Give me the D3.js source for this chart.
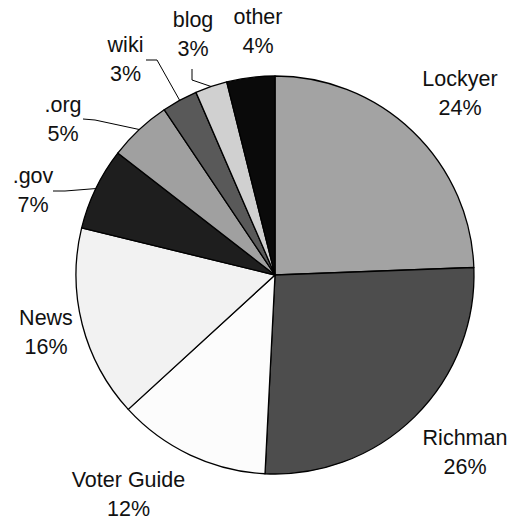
<!DOCTYPE html>
<html>
<head>
<meta charset="utf-8">
<script src="https://cdn.jsdelivr.net/npm/d3@7"></script>
<style>
  html, body { margin: 0; padding: 0; background: #fff; }
  text { font-family: "Liberation Sans", Arial, sans-serif; font-size: 21.5px; fill: #111; }
</style>
</head>
<body>
<div id="chart"></div>
<script>
// slice names, clockwise from 12 o'clock
var categories = ['Lockyer', 'Richman', 'Voter Guide', 'News', '.gov', '.org', 'wiki', 'blog', 'other'];
// share of each slice, in percent
var values = [24.4, 26.4, 12.4, 15.6, 6.7, 5.1, 2.9, 2.6, 3.9];
// percent labels as printed
var percentLabels = ['24%', '26%', '12%', '16%', '7%', '5%', '3%', '3%', '4%'];
var fills = ['#a3a3a3', '#4d4d4d', '#fcfcfc', '#f2f2f2', '#1e1e1e', '#a0a0a0', '#595959', '#d0d0d0', '#0a0a0a'];

// label layout: text anchor (centre x, first baseline) and optional leader elbow
var labelLayout = [
  {x: 460, y: 86},
  {x: 465, y: 445},
  {x: 128.5, y: 487},
  {x: 46, y: 325},
  {x: 33, y: 183, leader: [[53, 191], [65, 191]]},
  {x: 63, y: 112, leader: [[83, 119], [95, 120]]},
  {x: 125.5, y: 52, leader: [[146, 60], [157, 60]]},
  {x: 193, y: 27, leader: [[192, 69], [192, 80]]},
  {x: 258, y: 24}
];

var w = 513, h = 520,
  cx = 275, cy = 275, r = 199;

var svg = d3.select('#chart')
  .append('svg')
  .attr('width', w)
  .attr('height', h);

var pie = d3.pie().sort(null).value(function(d) { return d; });
var arcs = pie(values);

var arc = d3.arc().innerRadius(0).outerRadius(r);

var g = svg.append('g').attr('transform', 'translate(' + cx + ',' + cy + ')');

g.selectAll('path')
  .data(arcs)
  .enter()
  .append('path')
  .attr('d', arc)
  .style('fill', function(d, i) { return fills[i]; })
  .style('stroke', '#000')
  .style('stroke-width', 1.3)
  .style('stroke-linejoin', 'round');

// leader lines: elbow then to the rim at the slice's mid angle
arcs.forEach(function(d, i) {
  var lay = labelLayout[i];
  if (!lay.leader) return;
  var a = (d.startAngle + d.endAngle) / 2;
  var end = [cx + r * Math.sin(a), cy - r * Math.cos(a)];
  var pts = lay.leader.concat([end]);
  svg.append('path')
    .attr('d', d3.line()(pts))
    .style('fill', 'none')
    .style('stroke', '#000')
    .style('stroke-width', 1);
});

var labels = svg.selectAll('text.lbl')
  .data(arcs)
  .enter()
  .append('text')
  .attr('class', 'lbl')
  .attr('text-anchor', 'middle')
  .attr('x', function(d, i) { return labelLayout[i].x; })
  .attr('y', function(d, i) { return labelLayout[i].y; });

labels.append('tspan')
  .attr('x', function(d, i) { return labelLayout[i].x; })
  .text(function(d, i) { return categories[i]; });

labels.append('tspan')
  .attr('x', function(d, i) { return labelLayout[i].x; })
  .attr('dy', 28.5)
  .text(function(d, i) { return percentLabels[i]; });
</script>
</body>
</html>
